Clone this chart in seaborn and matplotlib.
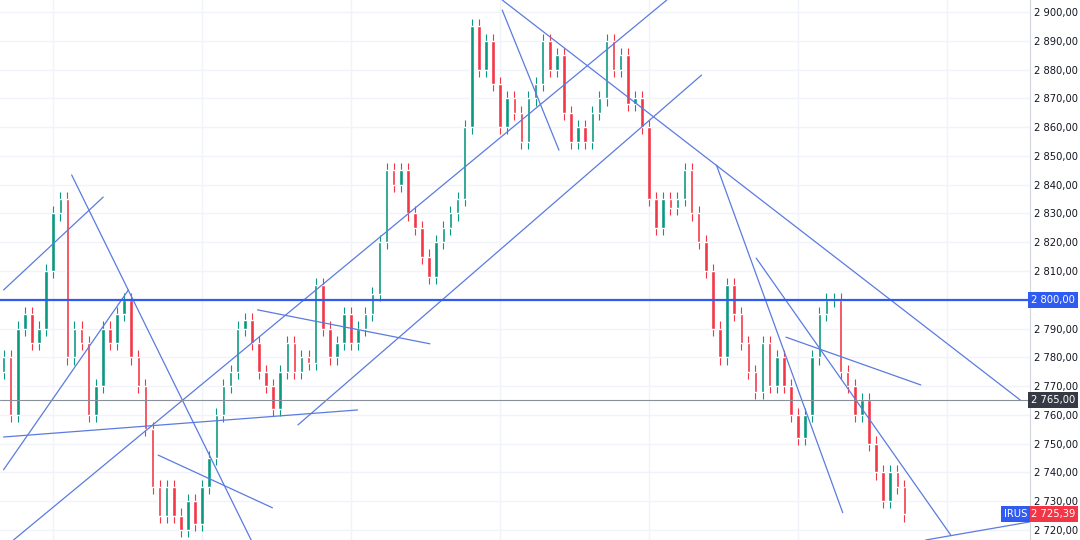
import numpy as np
import pandas as pd
import matplotlib
matplotlib.use("Agg")
import matplotlib.pyplot as plt
import seaborn as sns

# closes, one per candle
closes = [2780, 2760, 2790, 2795, 2785, 2790, 2810, 2830, 2835, 2780, 2790, 2785, 2760, 2770,
          2790, 2785, 2795, 2800, 2780, 2770, 2755, 2735, 2725, 2735, 2725, 2720, 2730, 2722,
          2735, 2745, 2760, 2770, 2775, 2790, 2793, 2785, 2775, 2770, 2762, 2775, 2785, 2775,
          2780, 2778, 2805, 2790, 2780, 2785, 2795, 2785, 2790, 2795, 2802, 2820, 2845, 2840,
          2845, 2830, 2825, 2815, 2808, 2820, 2825, 2830, 2835, 2860, 2895, 2880, 2890, 2875,
          2860, 2870, 2865, 2855, 2870, 2875, 2890, 2880, 2885, 2865, 2855, 2860, 2855, 2865,
          2870, 2890, 2880, 2885, 2868, 2870, 2860, 2835, 2825, 2835, 2832, 2835, 2845, 2830,
          2820, 2810, 2790, 2780, 2805, 2795, 2785, 2775, 2768, 2785, 2770, 2780, 2770, 2760,
          2752, 2760, 2780, 2795, 2800, 2800, 2775, 2770, 2760, 2765, 2750, 2740, 2730, 2740,
          2735, 2725.39]
first_open = 2775
wick_pad = 2.5

# trend lines drawn on the chart: (x0, y0, x1, y1) in candle index / price
trend_lines = [
    (0, 2803.4, 14.05, 2835.7),
    (0, 2740.9, 17.6, 2803.4),
    (9.6, 2843.4, 34.9, 2716.5),
    (0, 2752.3, 49.9, 2761.7),
    (1.4, 2716.5, 93.5, 2904.2),
    (41.5, 2756.5, 98.4, 2878.1),
    (35.8, 2796.5, 60.1, 2784.7),
    (21.8, 2746.0, 37.9, 2727.7),
    (70.3, 2904.2, 143.3, 2765.2),
    (70.3, 2900.7, 78.3, 2852.0),
    (100.5, 2846.8, 118.3, 2726.0),
    (106.1, 2814.5, 133.5, 2718.3),
    (110.3, 2787.0, 129.3, 2770.4),
    (130.0, 2716.5, 144.7, 2722.8),
]
level_main = 2800
level_second = 2765
y_ticks = list(range(2720, 2901, 10))


def fmt(v):
    return f"{v:,.2f}".replace(",", " ").replace(".", ",")


opens = [first_open] + closes[:-1]
df = pd.DataFrame({"open": opens, "close": closes})
df["high"] = df[["open", "close"]].max(axis=1) + wick_pad
df["low"] = df[["open", "close"]].min(axis=1) - wick_pad
df["up"] = df["close"] >= df["open"]

sns.set_style("white")
plt.rcParams["font.family"] = ["DejaVu Sans"]
fig = plt.figure(figsize=(10.8, 5.4), dpi=100)
ax = fig.add_axes([0, 0, 1030 / 1080, 1])

up_c, dn_c = "#089981", "#f23645"
for i, r in df.iterrows():
    c = up_c if r["up"] else dn_c
    ax.vlines(i, r["low"], r["high"], color=c, lw=0.8, zorder=3)
    ax.bar(i, abs(r["close"] - r["open"]) or 0.3, bottom=min(r["open"], r["close"]),
           width=0.5, color=c, zorder=3)

for x0, y0, x1, y1 in trend_lines:
    ax.plot([x0, x1], [y0, y1], color="#5b7be0", lw=0.9, zorder=4)

ax.axhline(level_main, color="#2f5bf0", lw=1.6, zorder=5)
ax.axhline(level_second, color="#8a8f9c", lw=0.8, zorder=5)

ax.set_xlim(-0.5, 144.7)
ax.set_ylim(2716.5, 2904.2)
ax.set_yticks(y_ticks)
ax.yaxis.tick_right()
ax.set_yticklabels(["" if v == level_main else fmt(v) for v in y_ticks],
                   fontsize=7.2, color="#131722")
ax.tick_params(axis="y", length=0, pad=3)
ax.set_xticks([7, 28, 49, 70, 91, 112, 133])
ax.tick_params(axis="x", length=0, labelbottom=False)
ax.grid(True, color="#f0f3fa", lw=1)
for s in ["top", "left", "bottom"]:
    ax.spines[s].set_visible(False)
ax.spines["right"].set_color("#d1d4dc")


def tag(y, text, bg, fg="white", x=1.001):
    ax.text(x, y, text, transform=ax.get_yaxis_transform(), ha="left", va="center",
            fontsize=7.2, color=fg, zorder=10,
            bbox=dict(boxstyle="square,pad=0.3", fc=bg, ec="none"))


tag(level_main, fmt(level_main), "#2f5bf0")
tag(level_second, fmt(level_second), "#363a45")
tag(closes[-1], fmt(closes[-1]), dn_c)
ax.text(0.997, closes[-1], "IRUS", transform=ax.get_yaxis_transform(), ha="right",
        va="center", fontsize=7.2, color="white", zorder=10,
        bbox=dict(boxstyle="square,pad=0.3", fc="#2f5bf0", ec="none"))

fig.savefig("out.png", dpi=100)
